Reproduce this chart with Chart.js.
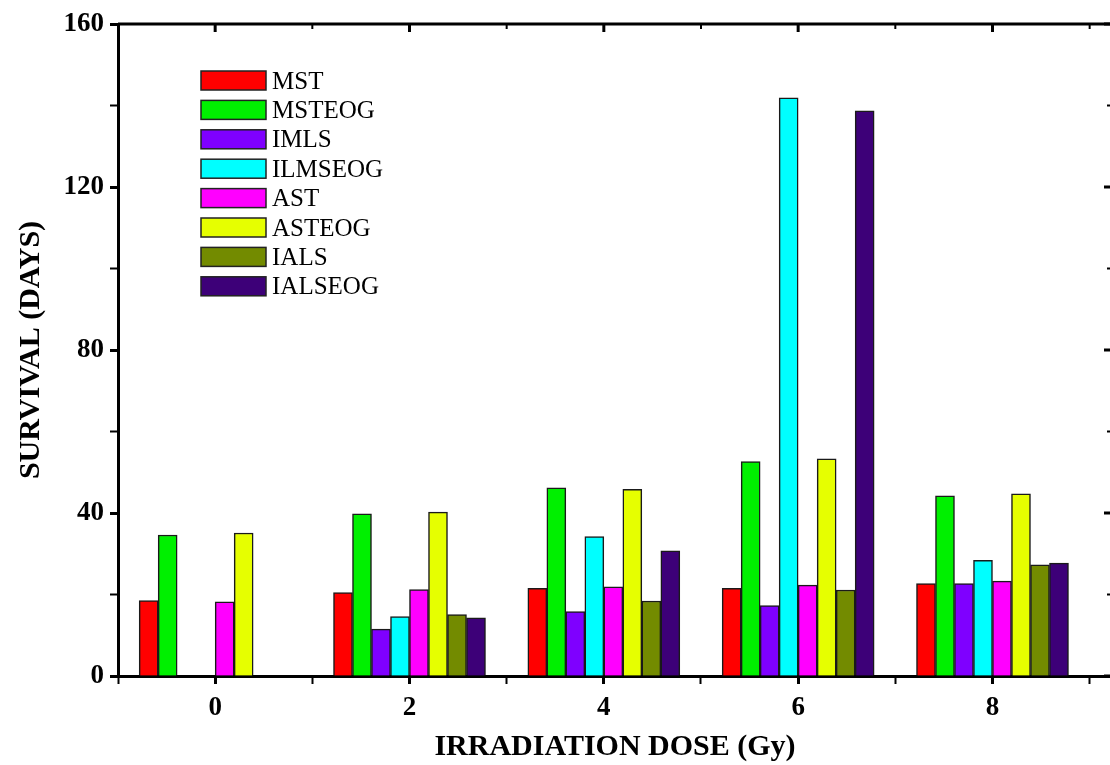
<!DOCTYPE html>
<html>
<head>
<title>Survival vs irradiation dose</title>
<script src="https://cdn.jsdelivr.net/npm/chart.js"></script>
<style>
  html, body { margin: 0; padding: 0; background: #fff; overflow: hidden; }
  #wrap { width: 1125px; height: 765px; position: relative; }
</style>
</head>
<body>
<div id="wrap"><canvas id="survChart"></canvas></div>
<script>
  // irradiation doses (Gy)
  const doses = [0, 2, 4, 6, 8];

  // survival in days, one array per group (null = no bar)
  const mst      = [18.5, 20.5, 21.5, 21.5, 22.7];
  const msteog   = [34.6, 39.8, 46.2, 52.6, 44.2];
  const imls     = [null, 11.5, 15.8, 17.3, 22.7];
  const ilmseog  = [null, 14.6, 34.2, 141.9, 28.4];
  const ast      = [18.2, 21.2, 21.9, 22.3, 23.3];
  const asteog   = [35.1, 40.2, 45.8, 53.3, 44.7];
  const ials     = [null, 15.1, 18.4, 21.1, 27.3];
  const ialseog  = [null, 14.3, 30.7, 138.7, 27.7];

  const yTicks = [0, 40, 80, 120, 160];

  const series = [
    { label: 'MST',      values: mst,     color: '#ff0000' },
    { label: 'MSTEOG',   values: msteog,  color: '#00f000' },
    { label: 'IMLS',     values: imls,    color: '#7f00ff' },
    { label: 'ILMSEOG',  values: ilmseog, color: '#00ffff' },
    { label: 'AST',      values: ast,     color: '#ff00ff' },
    { label: 'ASTEOG',   values: asteog,  color: '#e6ff00' },
    { label: 'IALS',     values: ials,    color: '#738b00' },
    { label: 'IALSEOG',  values: ialseog, color: '#3d0078' }
  ];

  const serif = 'Liberation Serif, Times New Roman, serif';

  // top and right frame lines with inward ticks, plus the legend box inside the plot
  const framePlugin = {
    id: 'frame',
    afterDraw(chart) {
      const ctx = chart.ctx;
      const a = chart.chartArea;
      const xs = chart.scales.x, ys = chart.scales.y;
      ctx.save();
      ctx.strokeStyle = '#000';
      ctx.lineWidth = 3;
      ctx.beginPath();
      ctx.moveTo(a.left, a.top);
      ctx.lineTo(a.right, a.top);
      ctx.lineTo(a.right, a.bottom);
      ctx.stroke();
      xs.ticks.forEach(t => {
        const px = xs.getPixelForValue(t.value);
        const major = t.value % 2 === 0;
        ctx.lineWidth = major ? 3 : 2;
        ctx.beginPath();
        ctx.moveTo(px, a.top);
        ctx.lineTo(px, a.top + (major ? 8 : 5));
        ctx.stroke();
      });
      ys.ticks.forEach(t => {
        const py = ys.getPixelForValue(t.value);
        const major = t.value % 40 === 0;
        ctx.lineWidth = major ? 3 : 2;
        ctx.beginPath();
        ctx.moveTo(a.right, py);
        ctx.lineTo(a.right - (major ? 8 : 5), py);
        ctx.stroke();
      });

      // legend
      const lx = a.left + 83, ly = a.top + 47, rowH = 29.4;
      ctx.font = '25px ' + serif;
      ctx.textBaseline = 'middle';
      ctx.textAlign = 'left';
      chart.data.datasets.forEach((ds, i) => {
        const y = ly + i * rowH;
        ctx.fillStyle = ds.backgroundColor;
        ctx.fillRect(lx, y, 65, 19);
        ctx.lineWidth = 1.5;
        ctx.strokeStyle = '#222';
        ctx.strokeRect(lx, y, 65, 19);
        ctx.fillStyle = '#000';
        ctx.fillText(ds.label, lx + 71, y + 11);
      });
      ctx.restore();
    }
  };

  const ctx = document.getElementById('survChart').getContext('2d');

  const chart = new Chart(ctx, {
    type: 'bar',
    data: {
      datasets: series.map(s => ({
        label: s.label,
        data: doses.map((d, i) => ({ x: d, y: s.values[i] })),
        backgroundColor: s.color,
        borderColor: '#1a1a1a',
        borderWidth: 1.5,
        barThickness: 19
      }))
    },
    options: {
      responsive: true,
      maintainAspectRatio: false,
      animation: false,
      layout: { padding: { top: 24, right: 13, left: 0, bottom: 0 } },
      plugins: {
        legend: { display: false },
        tooltip: { enabled: false }
      },
      scales: {
        x: {
          type: 'linear',
          min: -1,
          max: 9.23,
          offset: false,
          afterFit: s => { s.height = 89; },
          border: { display: true, color: '#000', width: 3 },
          grid: {
            offset: false,
            drawOnChartArea: false,
            tickLength: 8,
            tickColor: '#000',
            tickWidth: c => (c.tick && c.tick.value % 2 === 0) ? 3 : 2
          },
          ticks: {
            stepSize: 1,
            includeBounds: false,
            padding: 8,
            color: '#000',
            font: { family: serif, size: 27, weight: 'bold' },
            maxRotation: 0,
            autoSkip: false,
            callback: v => (v % 2 === 0 && v >= 0 && v <= 8) ? v : ''
          },
          title: {
            display: true,
            text: 'IRRADIATION DOSE (Gy)',
            color: '#000',
            font: { family: serif, size: 30, weight: 'bold' },
            padding: { top: 0, bottom: 0 }
          }
        },
        y: {
          min: 0,
          max: 160,
          afterFit: s => { s.width = 118; },
          border: { display: true, color: '#000', width: 3 },
          grid: {
            drawOnChartArea: false,
            tickLength: 8,
            tickColor: '#000',
            tickWidth: c => (c.tick && c.tick.value % 40 === 0) ? 3 : 2
          },
          ticks: {
            stepSize: 20,
            padding: 6,
            color: '#000',
            font: { family: serif, size: 27, weight: 'bold' },
            callback: v => yTicks.includes(v) ? v : ''
          },
          title: {
            display: true,
            text: 'SURVIVAL (DAYS)',
            color: '#000',
            font: { family: serif, size: 30, weight: 'bold' },
            padding: { top: 13, bottom: 0 }
          }
        }
      }
    },
    plugins: [framePlugin]
  });
</script>
</body>
</html>
